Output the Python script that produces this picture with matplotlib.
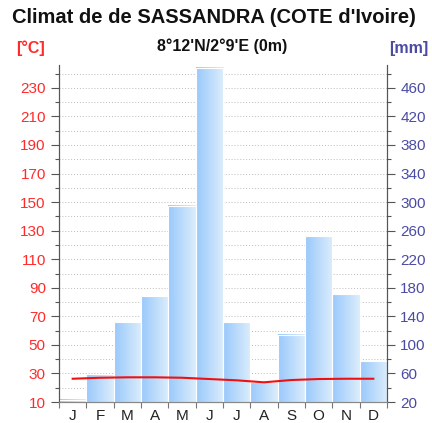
import numpy as np
import matplotlib
matplotlib.use("Agg")
import matplotlib.pyplot as plt
from matplotlib.ticker import FixedLocator

plt.rcParams["font.family"] = ["Liberation Sans", "DejaVu Sans"]

MONTHS = ["J", "F", "M", "A", "M", "J", "J", "A", "S", "O", "N", "D"]
precip_mm = [23, 59, 132, 168, 295, 488, 132, 48, 114, 252, 171, 77]
temp_c = [26.3, 27.0, 27.3, 27.3, 27.0, 26.1, 25.2, 23.8, 25.4, 26.1, 26.3, 26.3]

RED = "#ff2b2b"
BLUE = "#4b4ba6"

fig = plt.figure(figsize=(4.32, 4.23), dpi=100)
ax = fig.add_axes([0.1366, 0.0496, 0.7592, 0.7967])
ax2 = ax.twinx()

x = np.arange(12)
c_lo, c_hi = 10, 246
ax.set_ylim(c_lo, c_hi)
ax2.set_ylim(2 * c_lo, 2 * c_hi)
ax.set_xlim(-0.5, 11.5)

# barres précipitations avec dégradé horizontal
grad = np.linspace(0, 1, 64).reshape(1, -1)
cmap = matplotlib.colors.LinearSegmentedColormap.from_list("bleu", ["#99c9fc", "#dcedfb"])
for xi, v in zip(x, precip_mm):
    ax2.imshow(grad, cmap=cmap, extent=[xi - 0.5, xi + 0.5, 2 * c_lo, v],
               aspect="auto", zorder=2, interpolation="bilinear")
    ax2.bar(xi, v - 2 * c_lo, bottom=2 * c_lo, width=1.0, facecolor="none",
            edgecolor="white", lw=0.8, zorder=3)
ax2.set_xlim(-0.5, 11.5)
ax2.set_ylim(2 * c_lo, 2 * c_hi)

# grille pointillée
ax2.yaxis.set_major_locator(FixedLocator(np.arange(20, 481, 40)))
ax2.yaxis.set_minor_locator(FixedLocator(np.arange(40, 481, 40)))
ax2.grid(True, which="both", axis="y", ls=(0, (1, 2)), color="#bbbbbb", lw=0.7, zorder=0)
ax2.set_axisbelow(True)

# courbe température au-dessus
ax.set_zorder(ax2.get_zorder() + 1)
ax.patch.set_visible(False)
ax.plot(x, temp_c, color="#ee1111", lw=1.5, zorder=5)

ax.yaxis.set_major_locator(FixedLocator(np.arange(10, 231, 20)))
ax.yaxis.set_minor_locator(FixedLocator(np.arange(20, 241, 20)))
ax.tick_params(axis="y", which="major", colors="#555555", labelcolor=RED,
               labelsize=11, length=6, width=0.8)
ax.tick_params(axis="y", which="minor", colors="#555555", length=3, width=0.8)
ax2.tick_params(axis="y", which="major", colors="#555555", labelcolor=BLUE,
                labelsize=11, length=6, width=0.8)
ax2.tick_params(axis="y", which="minor", colors="#555555", length=3, width=0.8)

ax.set_xticks(x)
ax.set_xticklabels(MONTHS)
ax.xaxis.set_minor_locator(FixedLocator(np.arange(-0.5, 12, 1)))
ax.tick_params(axis="x", which="major", length=0, labelsize=11, labelcolor="#222222", pad=5)
ax.tick_params(axis="x", which="minor", length=4, color="#777777", width=0.8)
ax2.tick_params(axis="x", which="both", length=0)

for a in (ax, ax2):
    a.spines["top"].set_visible(False)
    a.spines["left"].set_color("#555555")
    a.spines["right"].set_color("#555555")
    a.spines["bottom"].set_color("#888888")

fig.text(0.027, 0.958, "Climat de de SASSANDRA (COTE d'Ivoire)", fontsize=14.5,
         fontweight="bold", color="#111111", ha="left", va="center")
fig.text(0.514, 0.891, "8°12'N/2°9'E (0m)", fontsize=11.5, fontweight="bold",
         color="#111111", ha="center", va="center")
fig.text(0.038, 0.886, "[°C]", fontsize=11.5, fontweight="bold", color=RED,
         ha="left", va="center")
fig.text(0.992, 0.886, "[mm]", fontsize=11.5, fontweight="bold", color=BLUE,
         ha="right", va="center")

fig.savefig("out.png", dpi=100)
